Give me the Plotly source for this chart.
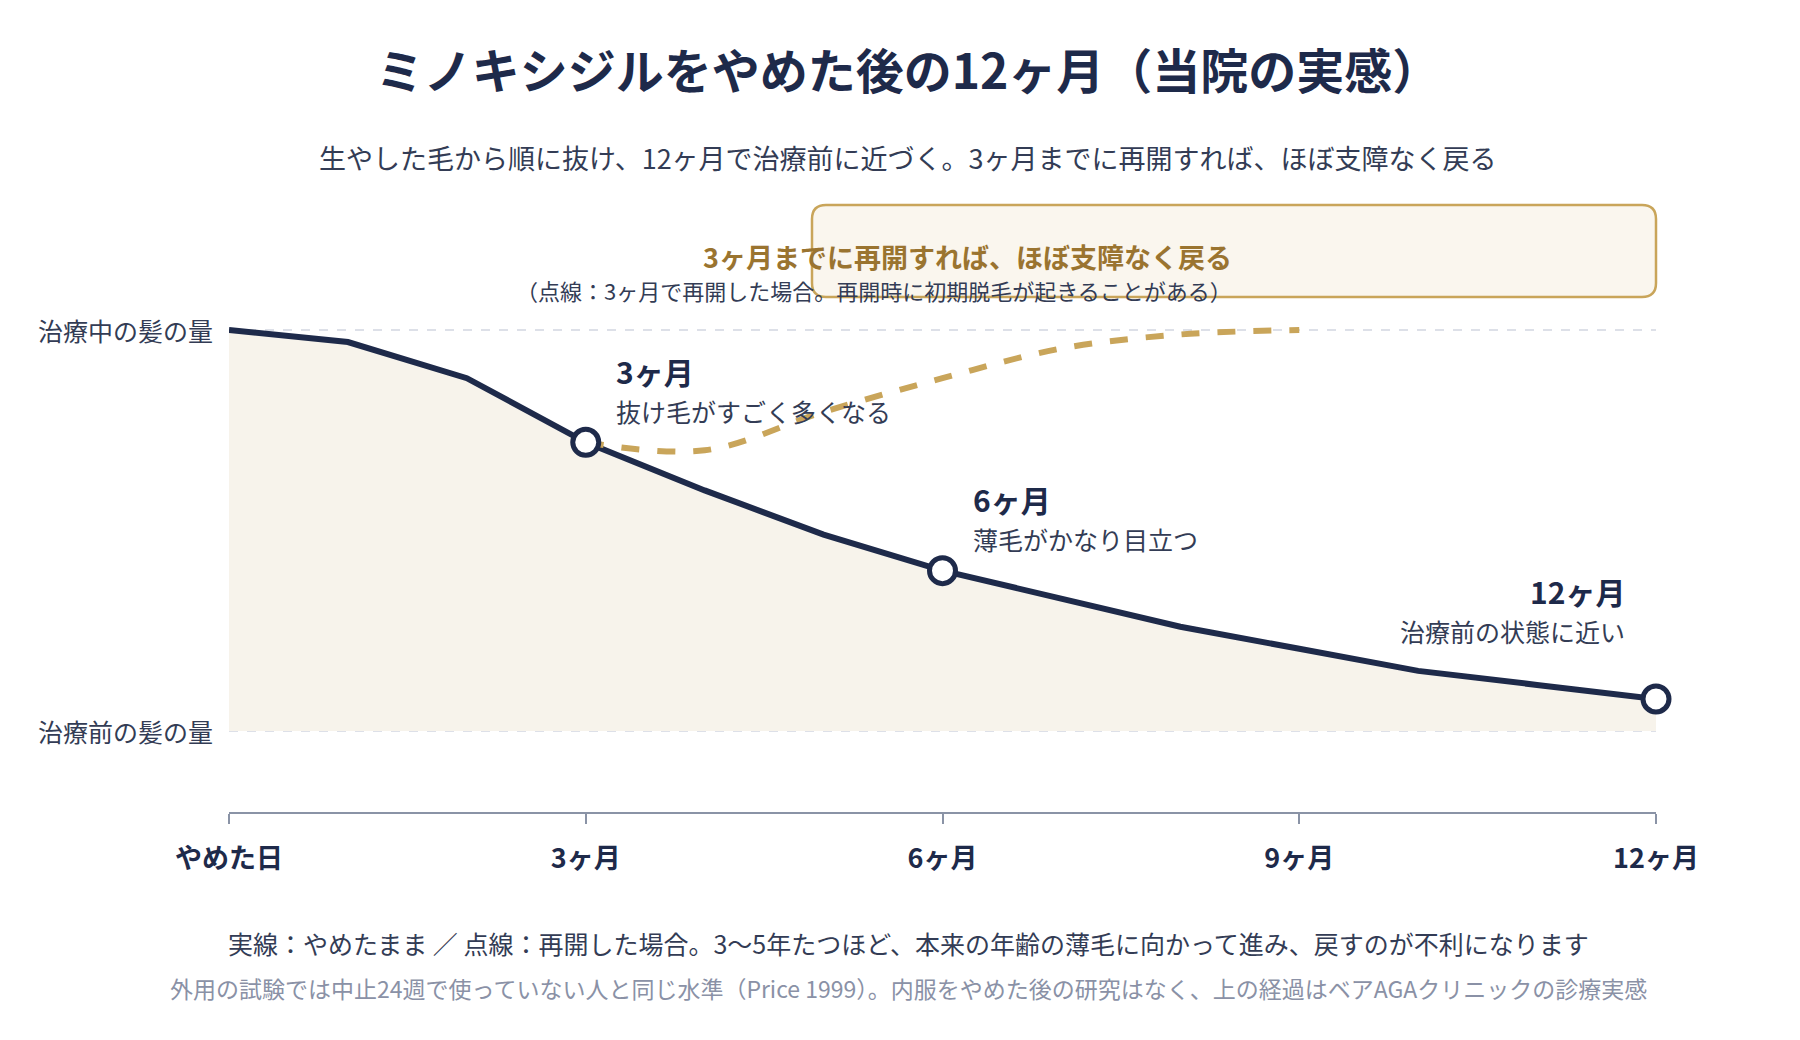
import plotly.graph_objects as go

months = list(range(13))
stopped = [100, 97, 88, 72, 60, 49, 40, 33, 26, 20.5, 15, 11.5, 8]
resume_months = [3, 4, 5, 6, 7, 8, 9]
resumed = [72, 70, 79.6, 88, 95.4, 98.9, 100]
marker_months = [3, 6, 12]
marker_vals = [stopped[3], stopped[6], stopped[12]]
tick_vals = [0, 3, 6, 9, 12]
tick_text = ["やめた日", "3ヶ月", "6ヶ月", "9ヶ月", "12ヶ月"]
ylabels = {100: "治療中の髪の量", 0: "治療前の髪の量"}

F = "Noto Sans CJK JP"
NAVY = "#1e2a4a"; GOLD = "#c9a55a"
L, R, T, B = 221, 152, 300, 236
W, H = 1800, 1040
YR = [-20.2, 105.5]

def px_to_px(px):
    return (px - L) / (W - L - R)
def py_to_py(py):
    return 1 - (py - T) / (H - T - B)
CX = px_to_px(W / 2)

fig = go.Figure()
fig.add_trace(go.Scatter(x=months, y=stopped, mode="lines", fill="tozeroy",
                         fillcolor="#f7f3eb", line=dict(color=NAVY, width=6),
                         cliponaxis=False, hoverinfo="skip"))
fig.add_trace(go.Scatter(x=resume_months, y=resumed, mode="lines",
                         line=dict(color=GOLD, width=6, dash="dash", shape="spline"),
                         cliponaxis=False))
fig.add_trace(go.Scatter(x=marker_months, y=marker_vals, mode="markers", cliponaxis=False,
                         marker=dict(size=26, color="white", line=dict(color=NAVY, width=5))))

for v in ylabels:
    fig.add_shape(type="line", x0=0, x1=12, y0=v, y1=v, layer="below",
                  line=dict(color="#dde0e8", width=2, dash="dash"))
    fig.add_annotation(x=0, y=v, xref="x", yref="y", text=ylabels[v], showarrow=False,
                       xanchor="right", xshift=-14, font=dict(family=F, size=25, color="#333c55"))

# rounded box in paper coords
x0p, x1p, y0p, y1p, r = 804, 1648, 197, 289, 14
def P(a, b):
    return f"{px_to_px(a)},{py_to_py(b)}"
path = (f"M {P(x0p+r,y0p)} L {P(x1p-r,y0p)} Q {P(x1p,y0p)} {P(x1p,y0p+r)} "
        f"L {P(x1p,y1p-r)} Q {P(x1p,y1p)} {P(x1p-r,y1p)} L {P(x0p+r,y1p)} "
        f"Q {P(x0p,y1p)} {P(x0p,y1p-r)} L {P(x0p,y0p+r)} Q {P(x0p,y0p)} {P(x0p+r,y0p)} Z")
fig.add_shape(type="path", path=path, xref="paper", yref="paper", fillcolor="#faf6ee",
              line=dict(color=GOLD, width=2.5))
bx = px_to_px((x0p + x1p) / 2)
fig.add_annotation(xref="paper", yref="paper", x=bx, y=py_to_py(227),
                   text="<b>3ヶ月までに再開すれば、ほぼ支障なく戻る</b>",
                   showarrow=False, font=dict(family=F, size=27, color="#9a7430"))
fig.add_annotation(xref="paper", yref="paper", x=bx, y=py_to_py(264),
                   text="（点線：3ヶ月で再開した場合。再開時に初期脱毛が起きることがある）",
                   showarrow=False, font=dict(family=F, size=22, color="#333c55"))

labels = [(3.24, 89.7, 79.9, "3ヶ月", "抜け毛がすごく多くなる", "left"),
          (6.24, 57.8, 48, "6ヶ月", "薄毛がかなり目立つ", "left"),
          (11.76, 34.8, 25, "12ヶ月", "治療前の状態に近い", "right")]
for x, y1, y2, t1, t2, anc in labels:
    fig.add_annotation(x=x, y=y1, text=f"<b>{t1}</b>", showarrow=False, xanchor=anc,
                       font=dict(family=F, size=30, color=NAVY))
    fig.add_annotation(x=x, y=y2, text=t2, showarrow=False, xanchor=anc,
                       font=dict(family=F, size=25, color="#333c55"))

fig.add_annotation(xref="paper", yref="paper", x=CX, y=py_to_py(955),
                   text="実線：やめたまま ／ 点線：再開した場合。3〜5年たつほど、本来の年齢の薄毛に向かって進み、戻すのが不利になります",
                   showarrow=False, font=dict(family=F, size=25, color="#333c55"))
fig.add_annotation(xref="paper", yref="paper", x=CX, y=py_to_py(999),
                   text="外用の試験では中止24週で使っていない人と同じ水準（Price 1999）。内服をやめた後の研究はなく、上の経過はベアAGAクリニックの診療実感",
                   showarrow=False, font=dict(family=F, size=23, color="#8a91a6"))
fig.add_annotation(xref="paper", yref="paper", x=CX, y=py_to_py(128),
                   text="生やした毛から順に抜け、12ヶ月で治療前に近づく。3ヶ月までに再開すれば、ほぼ支障なく戻る",
                   showarrow=False, font=dict(family=F, size=27, color="#333c55"))

fig.update_layout(
    width=W, height=H, paper_bgcolor="white", plot_bgcolor="white", showlegend=False,
    margin=dict(l=L, r=R, t=T, b=B),
    title=dict(text="<b>ミノキシジルをやめた後の12ヶ月（当院の実感）</b>", x=0.5, xanchor="center",
               y=1 - 64 / H, yanchor="middle", font=dict(family=F, size=48, color=NAVY)),
    xaxis=dict(range=[0, 12], tickvals=tick_vals, ticktext=[f"<b>{t}</b>" for t in tick_text],
               showgrid=False, zeroline=False, showline=True, linecolor="#8a93a6", linewidth=2,
               ticks="outside", ticklen=10, tickwidth=2, tickcolor="#8a93a6",
               tickfont=dict(family=F, size=27, color=NAVY), ticklabelstandoff=12),
    yaxis=dict(range=YR, showgrid=False, zeroline=False, showticklabels=False, showline=False),
)
fig.write_html("out.html")
